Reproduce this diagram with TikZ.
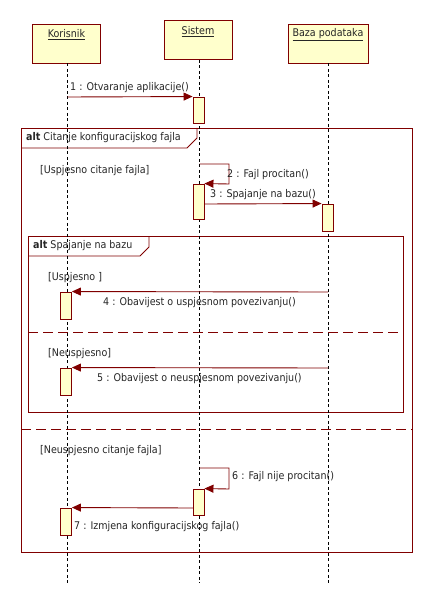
\documentclass[tikz,border=0pt]{standalone}
\usepackage{fontspec}
\setmainfont{DejaVu Sans Condensed}
\usetikzlibrary{arrows.meta}
\definecolor{maroon}{RGB}{128,0,0}
\definecolor{boxfill}{RGB}{255,255,204}
\begin{document}
\begin{tikzpicture}[x=1pt,y=-1pt,
  font=\fontsize{10.6}{12}\selectfont,
  head/.style={draw=maroon, fill=boxfill, line width=0.9pt, minimum width=68pt, minimum height=39pt, inner sep=0pt},
  headtxt/.style={inner sep=0pt, text=black!85},
  act/.style={draw=maroon, fill=boxfill, line width=0.9pt, minimum width=11pt, inner sep=0pt},
  life/.style={draw=black, line width=0.8pt, dash pattern=on 3pt off 2.5pt},
  frame/.style={draw=maroon, line width=0.9pt},
  sep/.style={draw=maroon, line width=0.9pt, dash pattern=on 10pt off 5pt},
  msg/.style={draw=maroon, line width=0.9pt, -{Triangle[length=9pt,width=8pt]}},
  lbl/.style={inner sep=0pt, text=black!85, anchor=west},
  guard/.style={inner sep=0pt, text=black!85, anchor=west}
]
\useasboundingbox (0,0) rectangle (432,604);
\fill[white] (0,0) rectangle (432,604);

% frames
\draw[frame] (21,128) rectangle (412,552);
\draw[frame] (21,148) -- (187,148) -- (197,138) -- (197,128);
\node[lbl] (t1) at (26,138) {\textbf{alt} Citanje konfiguracijskog fajla};
\draw[sep] (21,429) -- (412,429);
\draw[frame] (28,236) rectangle (403,412);
\draw[frame] (28,256) -- (140,256) -- (149,247) -- (149,236);
\node[lbl] (t2) at (33,246) {\textbf{alt} Spajanje na bazu};
\draw[sep] (28,332) -- (403,332);

% guards
\node[guard] (g1) at (40,171) {[Uspjesno citanje fajla]};
\node[guard] (g2) at (48,278) {[Uspjesno ]};
\node[guard] (g3) at (48,354) {[Neuspjesno]};
\node[guard] (g4) at (40,451) {[Neuspjesno citanje fajla]};

% heads
\node[head] (kor) at (66,43.5) {};
\node[head] (sis) at (198,40) {};
\node[head, minimum width=80pt] (baz) at (328,43.5) {};
\node[headtxt] (kort) at (66.5,35) {\underline{Korisnik}};
\node[headtxt] (sist) at (198,31.5) {\underline{Sistem}};
\node[headtxt] (bazt) at (328,35) {\underline{Baza podataka}};

% lifelines
\coordinate (kend) at (67.5,583);
\coordinate (send) at (199.5,583);
\coordinate (bend) at (328,583);
\draw[life] (kor.south -| kend) -- (kend);
\draw[life] (sis.south -| send) -- (send);
\draw[life] (baz.south -| bend) -- (bend);

% activations
\node[act, minimum height=26pt] (a1) at (198.5,110) {};
\node[act, minimum height=35pt] (a2) at (198.5,201.5) {};
\node[act, minimum height=27pt] (a3) at (327.5,217.5) {};
\node[act, minimum height=27pt] (a4) at (66,305.5) {};
\node[act, minimum height=27pt] (a5) at (66,381.5) {};
\node[act, minimum height=26pt] (a6) at (198.5,502) {};
\node[act, minimum height=27pt] (a7) at (66,521.5) {};

% messages
\coordinate (s1) at (67.5,97);
\draw[msg] (s1) -- (a1.north west);
\node[lbl] (l1) at (70,88) {1 : Otvaranje aplikacije()};

\coordinate (s2) at (199.5,164);
\coordinate (c2) at (229,184);
\draw[msg] (s2) -| (c2) -- (a2.north east);
\node[lbl] (l2) at (227,175) {2 : Fajl procitan()};

\coordinate (s3) at (204,204);
\draw[msg] (s3) -- (a3.north west);
\node[lbl] (l3) at (210,195) {3 : Spajanje na bazu()};

\coordinate (s4) at (328,292);
\draw[msg] (s4) -- (a4.north east);
\node[lbl] (l4) at (103,303) {4 : Obavijest o uspjesnom povezivanju()};

\coordinate (s5) at (328,368);
\draw[msg] (s5) -- (a5.north east);
\node[lbl] (l5) at (97,379) {5 : Obavijest o neuspjesnom povezivanju()};

\coordinate (s6) at (199.5,468);
\coordinate (c6) at (229,489);
\draw[msg] (s6) -| (c6) -- (a6.north east);
\node[lbl] (l6) at (232,477) {6 : Fajl nije procitan()};

\coordinate (s7) at (193,508);
\draw[msg] (s7) -- (a7.north east);
\node[lbl] (l7) at (74,527) {7 : Izmjena konfiguracijskog fajla()};
\end{tikzpicture}
\end{document}
